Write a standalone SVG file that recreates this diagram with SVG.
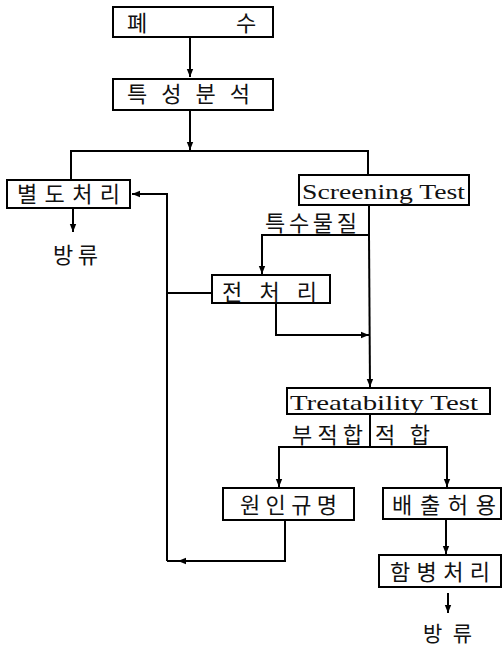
<svg xmlns="http://www.w3.org/2000/svg" width="503" height="649" viewBox="0 0 503 649">
<style>
.box{fill:#fff;stroke:#000;stroke-width:2}
.ln{fill:none;stroke:#000;stroke-width:2}
.ko{font-family:"Noto Sans CJK KR","Noto Sans",sans-serif;font-size:22px;fill:#111}
.en{font-family:"Liberation Serif",serif;font-size:22px;fill:#111}
</style>
<defs>
<marker id="ah2" viewBox="0 0 10 10" refX="10" refY="5" markerWidth="8" markerHeight="8" orient="auto" markerUnits="userSpaceOnUse">
<path d="M0,1 L10,5 L0,9 z" fill="#000"/>
</marker>
</defs>
<g id="connectors">
<line class="ln" x1="190" y1="37" x2="190" y2="77" marker-end="url(#ah2)"/>
<line class="ln" x1="190" y1="110" x2="190" y2="150" marker-end="url(#ah2)"/>
<polyline class="ln" points="71,180 71,151 368,151 368,175"/>
<line class="ln" x1="73" y1="208" x2="73" y2="232" marker-end="url(#ah2)"/>
<polyline class="ln" points="167,561 167,194 132,194" marker-end="url(#ah2)"/>
<line class="ln" x1="211" y1="293" x2="167" y2="293"/>
<polyline class="ln" points="369,205 369,235 262,235 262,274" marker-end="url(#ah2)"/>
<line class="ln" x1="369" y1="235" x2="370" y2="387" marker-end="url(#ah2)"/>
<polyline class="ln" points="276,303 276,335 369,335" marker-end="url(#ah2)"/>
<line class="ln" x1="370" y1="414" x2="370" y2="447"/>
<polyline class="ln" points="279,470 279,447 447,447 447,470"/>
<line class="ln" x1="279" y1="470" x2="279" y2="487" marker-end="url(#ah2)"/>
<line class="ln" x1="447" y1="470" x2="447" y2="487" marker-end="url(#ah2)"/>
<polyline class="ln" points="285,520 285,561 167,561"/>
<line class="ln" x1="200" y1="561" x2="178" y2="561" marker-end="url(#ah2)"/>
<line class="ln" x1="446" y1="519" x2="446" y2="554" marker-end="url(#ah2)"/>
<line class="ln" x1="448" y1="593" x2="448" y2="613" marker-end="url(#ah2)"/>
</g>
<g id="n-wastewater">
<rect class="box" x="113" y="7" width="160" height="30"/>
<text class="ko" x="127" y="31">폐</text>
<text class="ko" x="236" y="31">수</text>
</g>
<g id="n-analysis">
<rect class="box" x="113" y="79" width="160" height="31"/>
<text class="ko" x="127" y="102" textLength="123" lengthAdjust="spacing">특 성 분 석</text>
</g>
<g id="n-separate">
<rect class="box" x="7" y="180" width="123" height="28"/>
<text class="ko" x="17" y="202" textLength="103" lengthAdjust="spacing">별도처리</text>
</g>
<g id="n-discharge1">
<text class="ko" x="53" y="263" textLength="45" lengthAdjust="spacing">방류</text>
</g>
<g id="n-screening">
<rect class="box" x="299" y="175" width="170" height="30"/>
<text class="en" x="302" y="199" textLength="163" lengthAdjust="spacingAndGlyphs">Screening Test</text>
</g>
<g id="l-special">
<text class="ko" x="265" y="231" textLength="92" lengthAdjust="spacing">특수물질</text>
</g>
<g id="n-pretreat">
<rect class="box" x="212" y="275" width="118" height="28"/>
<text class="ko" x="222" y="300" textLength="95" lengthAdjust="spacing">전 처 리</text>
</g>
<g id="n-treatability">
<rect class="box" x="287" y="388" width="203" height="26"/>
<text class="en" x="290" y="410" textLength="188" lengthAdjust="spacingAndGlyphs">Treatability Test</text>
</g>
<g id="l-labels">
<text class="ko" x="292" y="443" textLength="71" lengthAdjust="spacing">부적합</text>
<text class="ko" x="375" y="443" textLength="55" lengthAdjust="spacing">적 합</text>
</g>
<g id="n-cause">
<rect class="box" x="223" y="488" width="131" height="32"/>
<text class="ko" x="240" y="513" textLength="97" lengthAdjust="spacing">원인규명</text>
</g>
<g id="n-permit">
<rect class="box" x="383" y="488" width="118" height="31"/>
<text class="ko" x="392" y="513" textLength="104" lengthAdjust="spacing">배출허용</text>
</g>
<g id="n-combined">
<rect class="box" x="379" y="555" width="122" height="32"/>
<text class="ko" x="390" y="580" textLength="100" lengthAdjust="spacing">함병처리</text>
</g>
<g id="n-discharge2">
<text class="ko" x="423" y="641" style="font-size:21px" textLength="49" lengthAdjust="spacing">방 류</text>
</g>
</svg>
